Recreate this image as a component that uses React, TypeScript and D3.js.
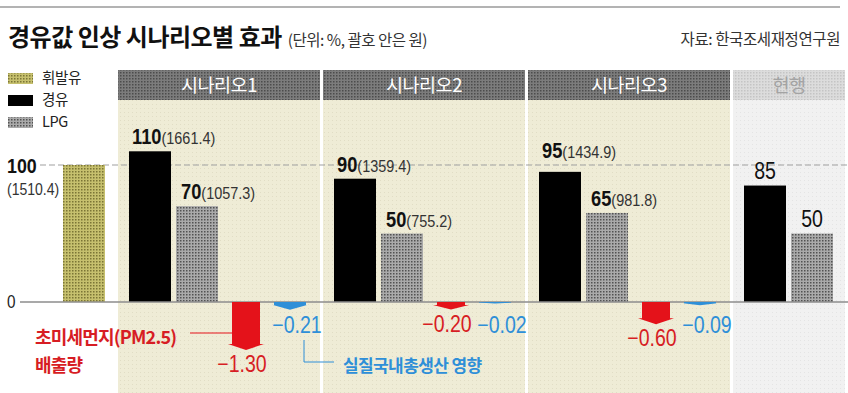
import React from 'react';
import * as d3 from 'd3';

const W = 848;
const H = 393;

// data
const panels = ['시나리오1', '시나리오2', '시나리오3', '현행'];
const dieselIdx = [110, 90, 95, 85];
const dieselWon = ['1661.4', '1359.4', '1434.9', ''];
const lpgIdx = [70, 50, 65, 50];
const lpgWon = ['1057.3', '755.2', '981.8', ''];
const gasolineIdx = 100;
const gasolineWon = '1510.4';
const pmChange = [-1.3, -0.2, -0.6];
const gdpChange = [-0.21, -0.02, -0.09];
const legendItems = ['휘발유', '경유', 'LPG'];

const KR = '"Noto Sans CJK KR", "Noto Sans", sans-serif';
const NUM = '"Liberation Sans", Arial, sans-serif';
const RED = '#e4121a';
const RED_TXT = '#d71d24';
const BLUE = '#2e8fd8';
const SX = 0.85; // condensed look of the original numerals

const fmt = (v: number) => '\u2212' + Math.abs(v).toFixed(2);

// narrow text: scaled horizontally around its anchor
const CText = ({ x, y, children, ...rest }: any) => (
  <text transform={`translate(${x},${y}) scale(${SX},1)`} fontFamily={NUM} {...rest}>{children}</text>
);

export default function App() {
  const y = d3.scaleLinear().domain([0, 100]).range([302, 165]);
  const yNeg = d3.scaleLinear().domain([0, -1.3]).range([302, 350]);
  const xPanel = d3.scaleBand<string>().domain(panels).range([118, 935]).paddingInner(3 / 205);
  const xIn = d3.scaleOrdinal<string, number>().domain(['diesel', 'lpg', 'pm', 'gdp']).range([32, 79, 128, 172]);
  const barW = 42;

  const arrow = (cx: number, v: number, bodyW: number, headW: number) => {
    const y0 = yNeg(0);
    const y1 = Math.max(yNeg(v), y0 + 1.5);
    const hh = Math.min(6, (y1 - y0) * 0.6);
    const yb = y1 - hh;
    return `M${cx - bodyW / 2},${y0}L${cx + bodyW / 2},${y0}L${cx + bodyW / 2},${yb}L${cx + headW / 2},${yb}L${cx},${y1}L${cx - headW / 2},${yb}L${cx - bodyW / 2},${yb}Z`;
  };

  const labelY = (v: number) => {
    let b = y(v) - 7;
    if (Math.abs(b - y(100)) < 4) b = y(100) - 7;
    return b;
  };

  const gasX = (xPanel(panels[0]) as number) - 55;
  const legendFill = ['url(#gas)', '#000', 'url(#lpg)'];

  return (
    <svg width={W} height={H} style={{ position: 'absolute', left: 0, top: 0, background: '#fff' }}>
      <defs>
        <pattern id="gas" width="3" height="3" patternUnits="userSpaceOnUse">
          <rect width="3" height="3" fill="#c6c06e" />
          <rect width="1.5" height="1.5" fill="#7b7535" />
        </pattern>
        <pattern id="lpg" width="3" height="3" patternUnits="userSpaceOnUse">
          <rect width="3" height="3" fill="#aaaaaa" />
          <rect width="1.5" height="1.5" fill="#525252" />
        </pattern>
        <pattern id="hdr" width="3" height="3" patternUnits="userSpaceOnUse">
          <rect width="3" height="3" fill="#7c7c7c" />
          <rect width="1.5" height="1.5" fill="#4c4c4c" />
        </pattern>
        <pattern id="hdr2" width="3" height="3" patternUnits="userSpaceOnUse">
          <rect width="3" height="3" fill="#dcdcdc" />
          <rect width="1.5" height="1.5" fill="#c4c4c4" />
        </pattern>
        <pattern id="beige" width="4" height="4" patternUnits="userSpaceOnUse">
          <rect width="4" height="4" fill="#efecd6" />
          <rect width="1" height="1" fill="#e1ddc5" />
        </pattern>
        <pattern id="grey" width="4" height="4" patternUnits="userSpaceOnUse">
          <rect width="4" height="4" fill="#f1f1f1" />
          <rect width="1" height="1" fill="#e4e4e4" />
        </pattern>
      </defs>

      {/* top rule + title */}
      <line x1={0} x2={840} y1={7} y2={7} stroke="#9a9a9a" strokeWidth={1.5} />
      <text x={8} y={46} fontFamily={KR} fontWeight={700} fontSize={24} fill="#111" letterSpacing={-0.5}>
        경유값 인상 시나리오별 효과
        <tspan dx={6} fontSize={15.5} fontWeight={400} fill="#333">(단위: %, 괄호 안은 원)</tspan>
      </text>
      <text x={840} y={45} textAnchor="end" fontFamily={KR} fontSize={15.5} fill="#333" letterSpacing={-0.4}>
        자료: 한국조세재정연구원
      </text>

      {/* panels */}
      {panels.map((p, i) => {
        const x0 = xPanel(p) as number;
        const w = Math.min(xPanel.bandwidth(), 845 - x0);
        const now = i === panels.length - 1;
        return (
          <g key={p}>
            <rect x={x0} y={100} width={w} height={H - 100} fill={now ? 'url(#grey)' : 'url(#beige)'} />
            <rect x={x0} y={70} width={w} height={30} fill={now ? 'url(#hdr2)' : 'url(#hdr)'} />
            <text x={x0 + w / 2} y={85} dy="0.36em" textAnchor="middle" fontFamily={KR} fontSize={18.5}
              fill={now ? '#a3a3a3' : '#fff'} letterSpacing={-0.5}>{p}</text>
          </g>
        );
      })}

      {/* legend */}
      {legendItems.map((d, i) => (
        <g key={d} transform={`translate(8,${78 + i * 22})`}>
          <rect x={0} y={-5} width={25} height={11} fill={legendFill[i]} />
          <text x={34} y={0} dy="0.36em" fontFamily={KR} fontSize={14.5} fill="#222" letterSpacing={-0.4}>{d}</text>
        </g>
      ))}

      {/* 100 reference */}
      <line x1={40} x2={W} y1={y(100)} y2={y(100)} stroke="#a0a0a0" strokeWidth={1.2} strokeDasharray="6 3" />
      <CText x={7} y={y(100) + 8} fontWeight={700} fontSize={21} fill="#111">100</CText>
      <CText x={7} y={y(100) + 30} fontSize={16.5} fill="#333">({gasolineWon})</CText>

      {/* gasoline bar */}
      <rect x={gasX} y={y(gasolineIdx)} width={barW} height={y(0) - y(gasolineIdx)} fill="url(#gas)" />

      {/* diesel & LPG bars */}
      {panels.map((p, i) => {
        const x0 = xPanel(p) as number;
        const xd = x0 + xIn('diesel') - barW / 2;
        const xl = x0 + xIn('lpg') - barW / 2;
        const now = i === panels.length - 1;
        return (
          <g key={'b' + p}>
            <rect x={xd} y={y(dieselIdx[i])} width={barW} height={y(0) - y(dieselIdx[i])} fill="#000" />
            <rect x={xl} y={y(lpgIdx[i])} width={barW} height={y(0) - y(lpgIdx[i])} fill="url(#lpg)" />
            {now ? (
              <>
                <CText x={xd + barW / 2} y={labelY(dieselIdx[i])} textAnchor="middle" fontSize={23} fill="#111">{dieselIdx[i]}</CText>
                <CText x={xl + barW / 2} y={labelY(lpgIdx[i])} textAnchor="middle" fontSize={23} fill="#111">{lpgIdx[i]}</CText>
              </>
            ) : (
              <>
                <CText x={xd + 3} y={labelY(dieselIdx[i])} fill="#111">
                  <tspan fontWeight={700} fontSize={21.5}>{dieselIdx[i]}</tspan>
                  <tspan fontSize={17} fill="#333">({dieselWon[i]})</tspan>
                </CText>
                <CText x={xl + 5} y={labelY(lpgIdx[i])} fill="#111">
                  <tspan fontWeight={700} fontSize={21.5}>{lpgIdx[i]}</tspan>
                  <tspan fontSize={17} fill="#333">({lpgWon[i]})</tspan>
                </CText>
              </>
            )}
          </g>
        );
      })}

      {/* zero line */}
      <line x1={20} x2={W} y1={y(0)} y2={y(0)} stroke="#8c8c8c" strokeWidth={1.5} />
      <CText x={7} y={y(0)} dy="0.36em" fontSize={18} fill="#222">0</CText>

      {/* PM2.5 & GDP arrows */}
      {pmChange.map((v, i) => {
        const x0 = xPanel(panels[i]) as number;
        const cp = x0 + xIn('pm');
        const cg = x0 + xIn('gdp');
        const g = gdpChange[i];
        return (
          <g key={'a' + i}>
            <path d={arrow(cp, v, 28, 36)} fill={RED} />
            <path d={arrow(cg, g, 32, 34)} fill={BLUE} />
            <CText x={cp - 4} y={Math.max(yNeg(v) + 22, 332)} textAnchor="middle" fontSize={23} fill={RED_TXT}>{fmt(v)}</CText>
            <CText x={cg + 7} y={Math.max(yNeg(g) + 22, 333)} textAnchor="middle" fontSize={23} fill={BLUE}>{fmt(g)}</CText>
          </g>
        );
      })}

      {/* annotations */}
      <line x1={190} x2={xPanel(panels[0])! + xIn('pm') - 14} y1={333} y2={333} stroke={RED} strokeWidth={1} />
      <text x={35} y={344} fontFamily={KR} fontWeight={700} fontSize={18} fill={RED_TXT} letterSpacing={-0.8}>초미세먼지(PM2.5)</text>
      <text x={35} y={372} fontFamily={KR} fontWeight={700} fontSize={18} fill={RED_TXT} letterSpacing={-0.8}>배출량</text>

      <path d={`M${xPanel(panels[0])! + xIn('gdp') + 14},340V362H334`} fill="none" stroke={BLUE} strokeWidth={1} />
      <text x={343} y={372} fontFamily={KR} fontWeight={700} fontSize={17} fill={BLUE} letterSpacing={-0.6}>실질국내총생산 영향</text>
    </svg>
  );
}
